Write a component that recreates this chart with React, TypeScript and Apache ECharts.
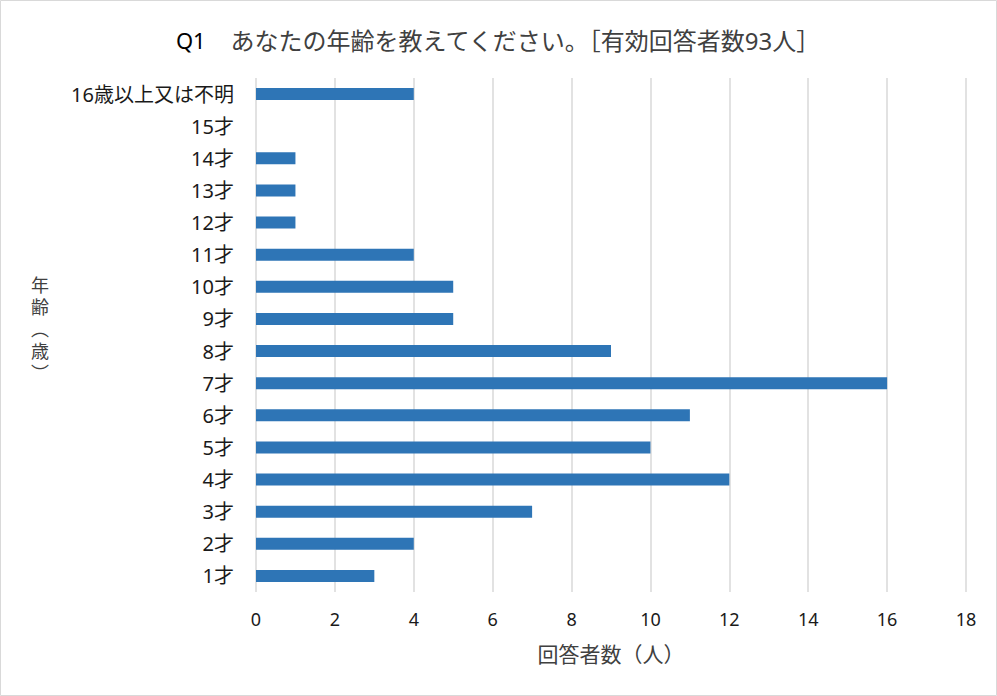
import * as echarts from 'echarts'
import { useEffect, useRef } from 'react'

const ages = [
  '1才', '2才', '3才', '4才', '5才', '6才', '7才', '8才',
  '9才', '10才', '11才', '12才', '13才', '14才', '15才', '16歳以上又は不明',
]
const counts = [3, 4, 7, 12, 10, 11, 16, 9, 5, 5, 4, 1, 1, 1, 0, 4]

const FONT = "'Noto Sans', 'Noto Sans CJK JP', sans-serif"

const App = () => {
  const containerRef = useRef<HTMLDivElement>(null)

  useEffect(() => {
    document.body.style.margin = '0'
    if (!containerRef.current) return
    const chart = echarts.init(containerRef.current, null, { renderer: 'svg' })

    chart.setOption({
      animation: false,
      backgroundColor: '#fff',
      title: {
        text: '{q|Q1}　あなたの年齢を教えてください。［有効回答者数93人］',
        left: 'center',
        top: 23,
        textStyle: {
          fontFamily: FONT,
          fontSize: 24,
          fontWeight: 'normal',
          color: '#404040',
          rich: {
            q: { fontFamily: FONT, fontSize: 22, color: '#000' },
          },
        },
      },
      graphic: [
        {
          type: 'rect',
          shape: { x: 0.5, y: 0.5, width: 996, height: 695 },
          style: { fill: 'none', stroke: '#d9d9d9', lineWidth: 1 },
          silent: true,
        },
        {
          // 縦書きの軸タイトル
          type: 'text',
          left: 31,
          top: 274,
          style: {
            text: '年\n齢\n︵\n歳\n︶',
            fontFamily: FONT,
            fontSize: 18,
            lineHeight: 22,
            fill: '#404040',
          },
        },
      ],
      grid: { left: 256, right: 31, top: 78, bottom: 104 },
      xAxis: {
        type: 'value',
        min: 0,
        max: 18,
        interval: 2,
        name: '回答者数（人）',
        nameLocation: 'middle',
        nameGap: 51,
        nameTextStyle: { fontFamily: FONT, fontSize: 21, color: '#404040' },
        axisLine: { show: false },
        axisTick: { show: false },
        axisLabel: { fontFamily: FONT, fontSize: 18, color: '#1a1a1a', margin: 18 },
        splitLine: { lineStyle: { color: '#d9d9d9', width: 1.5 } },
      },
      yAxis: {
        type: 'category',
        data: ages,
        axisLine: { show: false },
        axisTick: { show: false },
        axisLabel: { fontFamily: FONT, fontSize: 20, color: '#1a1a1a', margin: 22 },
        splitLine: { show: false },
      },
      series: [
        {
          type: 'bar',
          data: counts,
          barWidth: 12,
          itemStyle: { color: '#2e75b6' },
        },
      ],
    })

    return () => {
      chart.dispose()
    }
  }, [])

  return <div ref={containerRef} style={{ width: 997, height: 696 }} />
}

export default App
